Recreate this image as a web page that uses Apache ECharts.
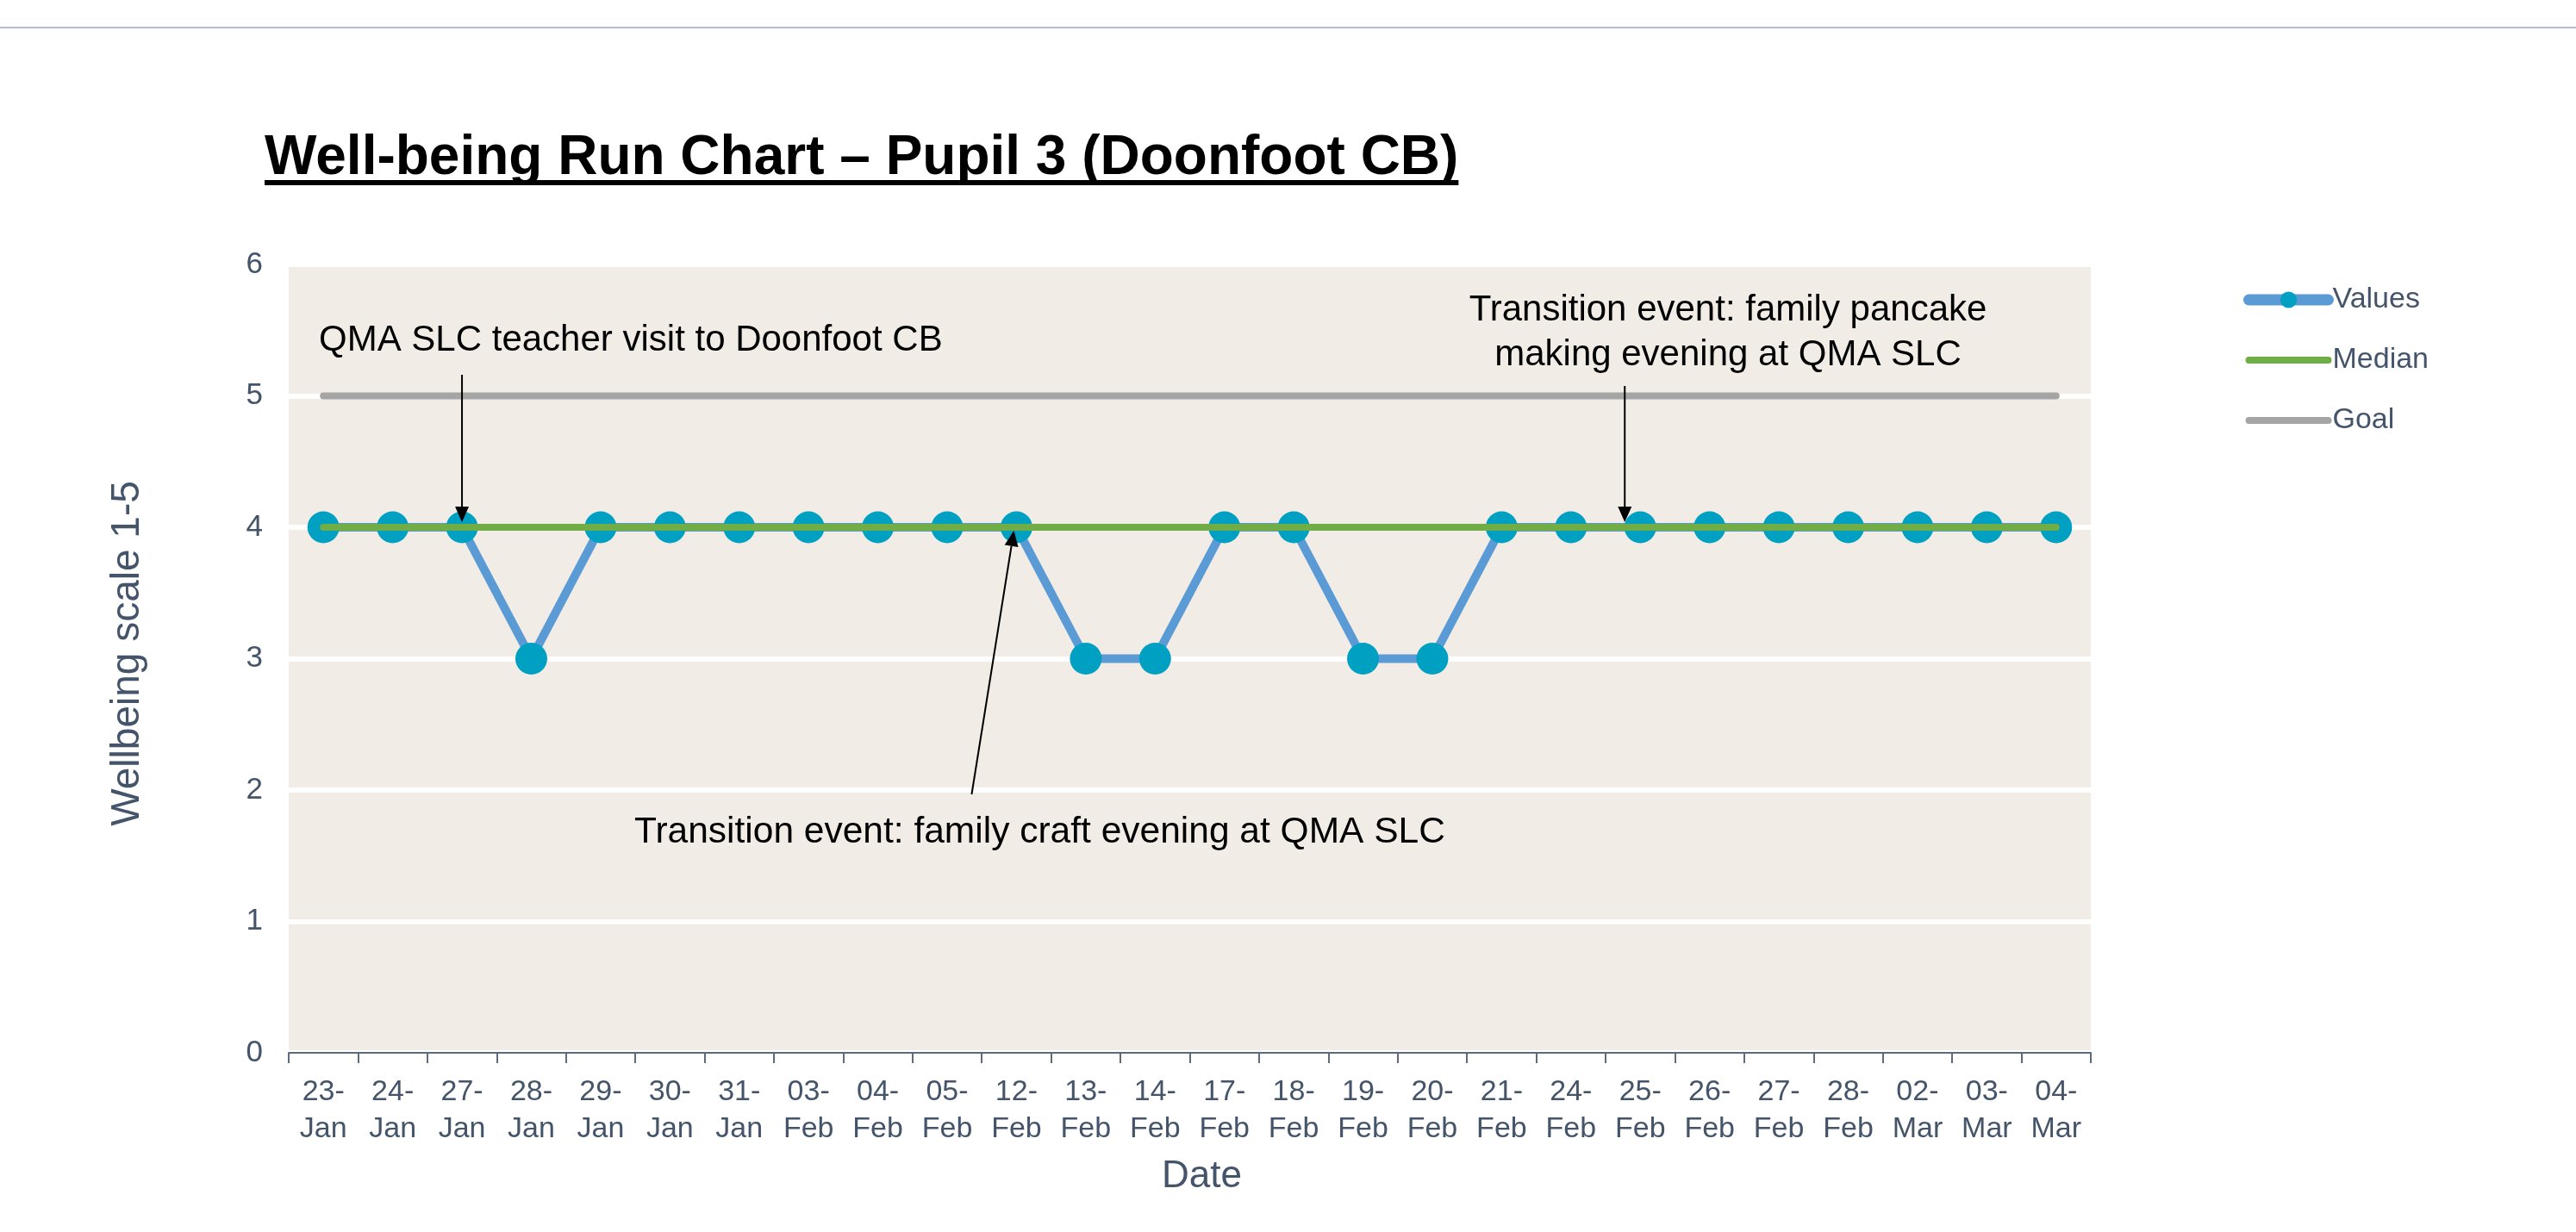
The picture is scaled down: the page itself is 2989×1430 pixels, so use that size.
<!DOCTYPE html>
<html>
<head>
<meta charset="utf-8">
<script src="https://cdn.jsdelivr.net/npm/echarts@6/dist/echarts.min.js"></script>
<style>
    html, body { margin: 0; padding: 0; background: #fff; }
    #main { width: 2989px; height: 1430px; }
</style>
</head>
<body>
<div id="main"></div>
<script>
// data
var dates = ['23-Jan', '24-Jan', '27-Jan', '28-Jan', '29-Jan', '30-Jan', '31-Jan', '03-Feb', '04-Feb', '05-Feb',
    '12-Feb', '13-Feb', '14-Feb', '17-Feb', '18-Feb', '19-Feb', '20-Feb', '21-Feb', '24-Feb', '25-Feb',
    '26-Feb', '27-Feb', '28-Feb', '02-Mar', '03-Mar', '04-Mar'];
var values = [4, 4, 4, 3, 4, 4, 4, 4, 4, 4, 4, 3, 3, 4, 4, 3, 3, 4, 4, 4, 4, 4, 4, 4, 4, 4];
var median = [4, 4, 4, 4, 4, 4, 4, 4, 4, 4, 4, 4, 4, 4, 4, 4, 4, 4, 4, 4, 4, 4, 4, 4, 4, 4];
var goal = [5, 5, 5, 5, 5, 5, 5, 5, 5, 5, 5, 5, 5, 5, 5, 5, 5, 5, 5, 5, 5, 5, 5, 5, 5, 5];
var yMin = 0, yMax = 6, yStep = 1;

var titleText = 'Well-being Run Chart \u2013 Pupil 3 (Doonfoot CB)';
var note1 = 'QMA SLC teacher visit to Doonfoot CB';          // 27-Jan
var note2 = 'Transition event: family pancake\nmaking evening at QMA SLC'; // 25-Feb
var note3 = 'Transition event: family craft evening at QMA SLC';           // 12-Feb

var FONT = '"Liberation Sans", Arial, sans-serif';
var SLATE = '#44546a';

var dom = document.getElementById('main');
var myChart = echarts.init(dom);

var option = {
    animation: false,
    backgroundColor: '#fff',
    legend: {
        orient: 'vertical',
        left: 2598,
        top: 326,
        itemWidth: 92,
        itemHeight: 24,
        itemGap: 36,
        textStyle: { fontFamily: FONT, fontSize: 34, color: SLATE },
        data: [
            { name: 'Values', lineStyle: { width: 13, cap: 'round' } },
            { name: 'Median', lineStyle: { width: 8, cap: 'round' }, itemStyle: { opacity: 0 } },
            { name: 'Goal', lineStyle: { width: 8, cap: 'round' }, itemStyle: { opacity: 0 } }
        ]
    },
    grid: {
        left: 335,
        right: 563,
        top: 307,
        bottom: 208,
        show: true,
        backgroundColor: '#f1ece6',
        borderWidth: 0
    },
    xAxis: {
        type: 'category',
        data: dates,
        boundaryGap: true,
        name: 'Date',
        nameLocation: 'middle',
        nameGap: 122,
        nameTextStyle: { fontFamily: FONT, fontSize: 44, color: SLATE, padding: [0, 0, 0, 28] },
        axisLine: { lineStyle: { color: '#5b6b80', width: 2 } },
        axisTick: { show: true, length: 12, lineStyle: { color: '#5b6b80', width: 2 } },
        axisLabel: {
            interval: 0,
            margin: 24,
            fontFamily: FONT,
            fontSize: 34,
            lineHeight: 43,
            color: SLATE,
            formatter: function (v) {
                var parts = v.split('-');
                return parts[0] + '-\n' + parts[1];
            }
        },
        splitLine: { show: false }
    },
    yAxis: {
        type: 'value',
        min: yMin,
        max: yMax,
        interval: yStep,
        name: 'Wellbeing scale 1-5',
        nameLocation: 'middle',
        nameRotate: 90,
        nameGap: 164,
        nameTextStyle: { fontFamily: FONT, fontSize: 46, color: SLATE, padding: [0, 0, 0, 12] },
        axisLine: { show: false },
        axisTick: { show: false },
        axisLabel: { margin: 30, fontFamily: FONT, fontSize: 35, color: SLATE },
        splitLine: { show: true, lineStyle: { color: '#ffffff', width: 6 } }
    },
    series: [
        {
            name: 'Values',
            type: 'line',
            data: values,
            z: 2,
            symbol: 'circle',
            symbolSize: 37,
            itemStyle: { color: '#00a0c2' },
            lineStyle: { color: '#5b9bd5', width: 10, cap: 'round', join: 'round' }
        },
        {
            name: 'Median',
            type: 'line',
            data: median,
            z: 3,
            symbol: 'none',
            itemStyle: { color: '#70ad47' },
            lineStyle: { color: '#70ad47', width: 8, cap: 'round' }
        },
        {
            name: 'Goal',
            type: 'line',
            data: goal,
            z: 3,
            symbol: 'none',
            itemStyle: { color: '#a5a5a5' },
            lineStyle: { color: '#a5a5a5', width: 8, cap: 'round' }
        }
    ]
};
myChart.setOption(option, true);

// annotations, placed from the axes
function pt(i, v) {
    return myChart.convertToPixel({ gridIndex: 0 }, [i, v]);
}
function arrow(x1, y1, x2, y2) {
    var ang = Math.atan2(y2 - y1, x2 - x1);
    var len = 18, half = 8;
    var bx = x2 - len * Math.cos(ang), by = y2 - len * Math.sin(ang);
    var nx = -Math.sin(ang) * half, ny = Math.cos(ang) * half;
    return {
        type: 'group',
        children: [
            { type: 'line', shape: { x1: x1, y1: y1, x2: bx, y2: by }, style: { stroke: '#000', lineWidth: 2 }, z: 10 },
            { type: 'polygon', shape: { points: [[x2, y2], [bx + nx, by + ny], [bx - nx, by - ny]] }, style: { fill: '#000' }, z: 10 }
        ]
    };
}

var ctx = document.createElement('canvas').getContext('2d');
ctx.font = 'bold 64px "Liberation Sans", Arial, sans-serif';
var titleW = ctx.measureText(titleText).width;

var a1 = pt(2, 4), a2 = pt(19, 4), a3 = pt(10, 4);

myChart.setOption({
    graphic: [
        { type: 'line', shape: { x1: 0, y1: 32, x2: 2989, y2: 32 }, style: { stroke: '#b3bfd2', lineWidth: 2 } },
        { type: 'text', x: 307, y: 184, style: { text: titleText, font: 'bold 64px "Liberation Sans", Arial, sans-serif', fill: '#000', verticalAlign: 'middle' } },
        { type: 'rect', shape: { x: 307, y: 209, width: titleW, height: 6 }, style: { fill: '#000' } },
        { type: 'text', x: 370, y: 395, style: { text: note1, font: '42px "Liberation Sans", Arial, sans-serif', fill: '#000', verticalAlign: 'middle' }, z: 10 },
        { type: 'text', x: 2005, y: 386, style: { text: note2, font: '42px "Liberation Sans", Arial, sans-serif', lineHeight: 52, fill: '#000', align: 'center', verticalAlign: 'middle' }, z: 10 },
        { type: 'text', x: 736, y: 966, style: { text: note3, font: '42.5px "Liberation Sans", Arial, sans-serif', fill: '#000', verticalAlign: 'middle' }, z: 10 },
        arrow(a1[0], 435, a1[0], a1[1] - 6),
        arrow(a2[0] - 18, 448, a2[0] - 18, a2[1] - 6),
        arrow(a3[0] - 52, 922, a3[0] - 3, a3[1] + 4)
    ]
});
</script>
</body>
</html>
